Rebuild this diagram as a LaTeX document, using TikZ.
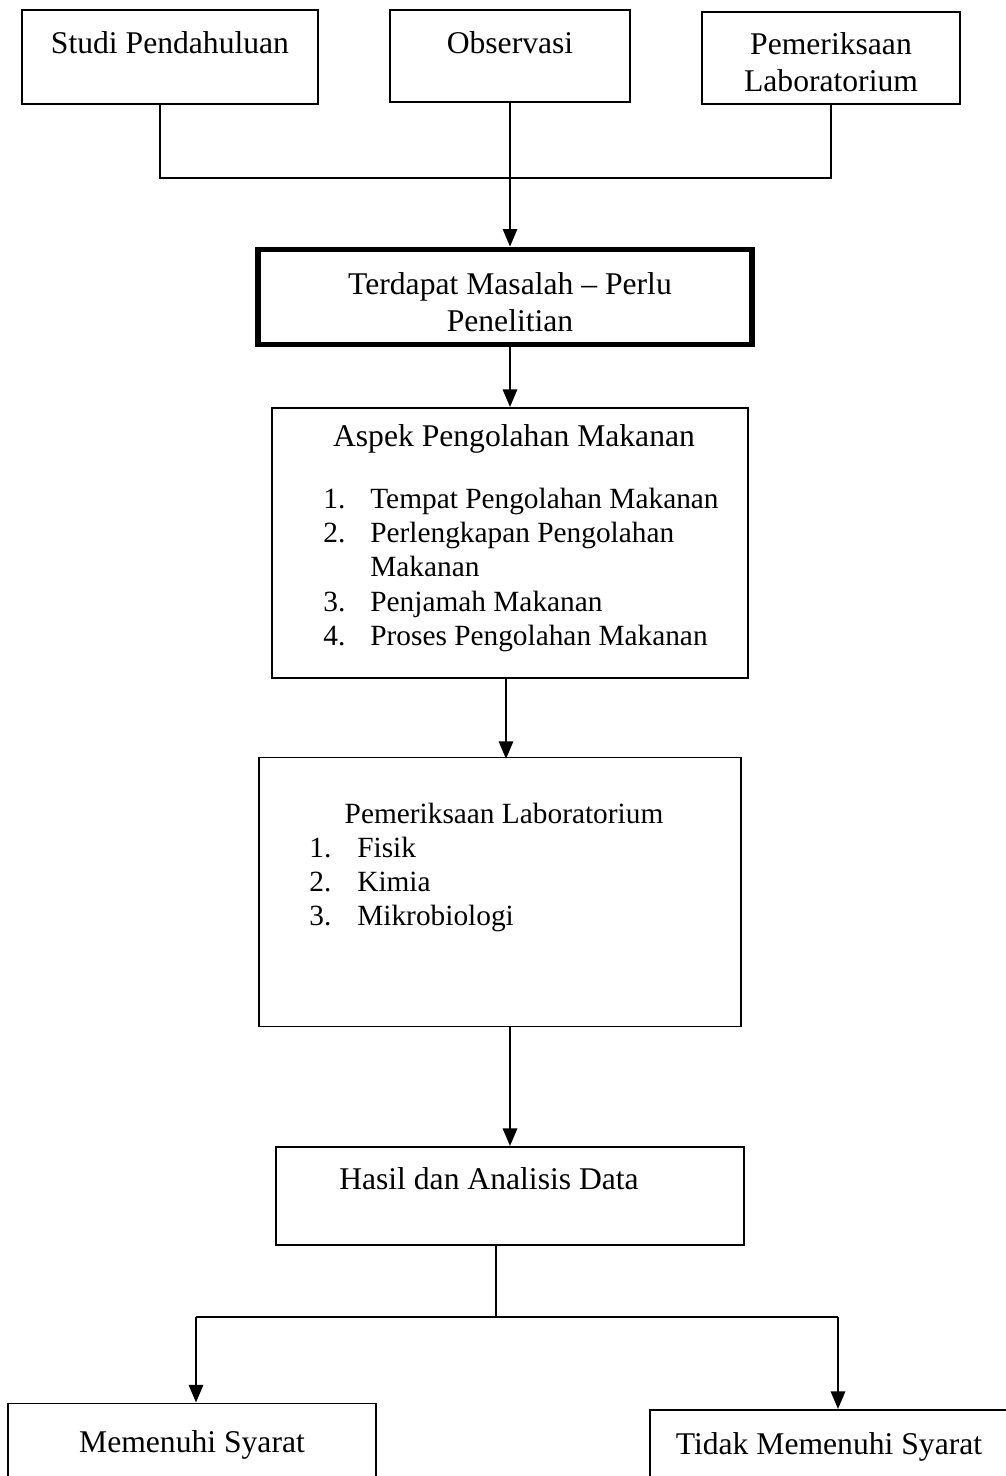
\documentclass[tikz,border=0pt]{standalone}
\usepackage{fontspec}
\setmainfont{Liberation Serif}
\usetikzlibrary{arrows.meta}

\begin{document}
\begin{tikzpicture}[x=0.02cm,y=-0.02cm,
        box/.style={draw,line width=1.1pt,inner sep=0pt},
        txt/.style={inner sep=0pt,font=\fontsize{18}{21}\selectfont,align=center},
        lst/.style={inner sep=0pt,anchor=north west,font=\fontsize{16.7}{19.5}\selectfont},
        ln/.style={line width=1.1pt},
        arr/.style={line width=1.5pt,-{Triangle[width=8pt,length=10pt]}}]
    \useasboundingbox (0,0) rectangle (1005,1476);

    % top row
    \node[box,minimum width=5.92cm,minimum height=1.88cm](studi) at (170,57) {};
    \node[box,minimum width=4.8cm,minimum height=1.84cm](obs) at (510,56) {};
    \node[box,minimum width=5.16cm,minimum height=1.84cm](periksa) at (831,58) {};
    \node[txt](tstudi) at (170,43) {Studi Pendahuluan};
    \node[txt](tobs) at (510,43) {Observasi};
    \node[txt](tperiksa) at (831,62) {Pemeriksaan\\Laboratorium};

    % problem
    \node[draw,line width=3.2pt,minimum width=9.88cm,minimum height=1.9cm](masalah) at (505,297) {};
    \node[txt](tmasalah) at (510,302) {Terdapat Masalah -- Perlu\\Penelitian};

    % aspects
    \node[box,minimum width=9.52cm,minimum height=5.4cm](aspek) at (510,543) {};
    \node[txt](taspek) at (514,439) {Aspek Pengolahan Makanan};
    \node[lst](laspek) at (323,484) {\begin{tabular}{@{}p{0.94cm}@{}l@{}}
        1. & Tempat Pengolahan Makanan\\
        2. & Perlengkapan Pengolahan\\
           & Makanan\\
        3. & Penjamah Makanan\\
        4. & Proses Pengolahan Makanan
    \end{tabular}};

    % lab
    \node[box,minimum width=9.64cm,minimum height=5.38cm](lab) at (500,892) {};
    \node[txt,font=\fontsize{16.7}{19.5}\selectfont](tlab) at (504,813) {Pemeriksaan Laboratorium};
    \node[lst](llab) at (309,833) {\begin{tabular}{@{}p{0.96cm}@{}l@{}}
        1. & Fisik\\
        2. & Kimia\\
        3. & Mikrobiologi
    \end{tabular}};

    % result
    \node[box,minimum width=9.36cm,minimum height=1.96cm](hasil) at (510,1196) {};
    \node[txt](thasil) at (489,1179) {Hasil dan Analisis Data};

    \node[box,minimum width=7.36cm,minimum height=1.94cm](ms) at (192,1452) {};
    \node[box,minimum width=7.2cm,minimum height=1.8cm](tms) at (830,1455) {};
    \node[txt](tmsa) at (192,1445) {Memenuhi Syarat};
    \node[txt](ttms) at (829,1447) {Tidak Memenuhi Syarat};

    % connectors
    \coordinate (jl) at (160,178);
    \coordinate (jm) at (510,178);
    \coordinate (jr) at (831,178);
    \draw[ln] (studi.south -| jl) -- (jl) -- (jr) -- (jr |- periksa.south);
    \draw[ln] (obs.south) -- (jm);
    \draw[arr] (jm) -- (jm |- masalah.north);
    \draw[arr] (masalah.south -| jm) -- (jm |- aspek.north);
    \draw[arr] (aspek.south) ++(-4,0) -- ++(0,80);
    \draw[arr] (lab.south -| hasil.north) -- (hasil.north);

    \coordinate (sl) at (196,1317);
    \coordinate (sm) at (496,1317);
    \coordinate (sr) at (838,1317);
    \draw[ln] (hasil.south -| sm) -- (sm);
    \draw[ln] (sl) -- (sr);
    \draw[arr] (sl) -- (sl |- ms.north);
    \draw[arr] (sr) -- (sr |- tms.north);
\end{tikzpicture}
\end{document}
